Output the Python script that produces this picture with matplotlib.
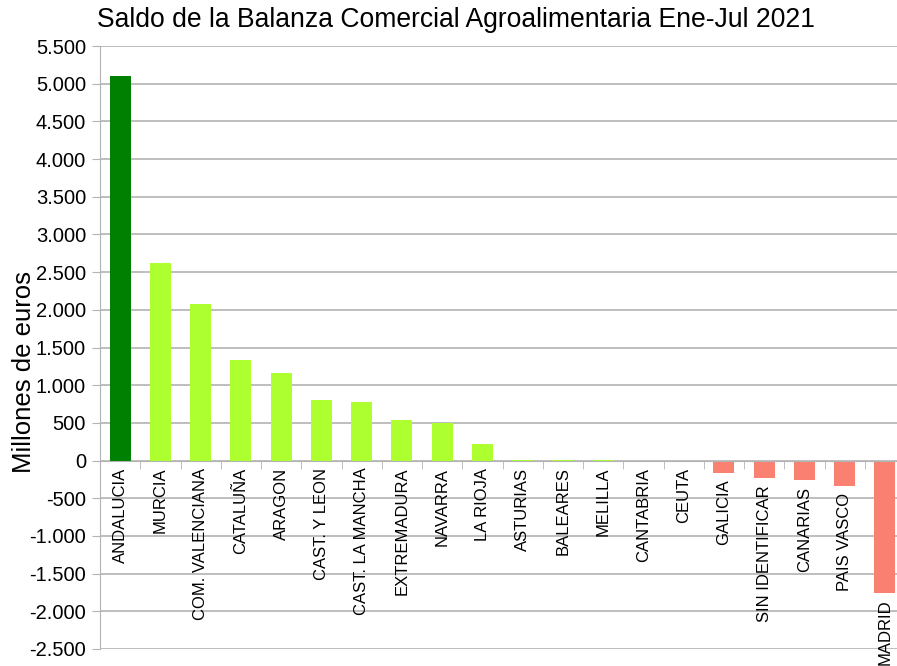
import matplotlib.pyplot as plt
import numpy as np
from matplotlib.ticker import FuncFormatter

plt.rcParams['font.family'] = ['Liberation Sans', 'DejaVu Sans']

regiones = ['ANDALUCIA', 'MURCIA', 'COM. VALENCIANA', 'CATALUÑA', 'ARAGON',
            'CAST. Y LEON', 'CAST. LA MANCHA', 'EXTREMADURA', 'NAVARRA',
            'LA RIOJA', 'ASTURIAS', 'BALEARES', 'MELILLA', 'CANTABRIA', 'CEUTA',
            'GALICIA', 'SIN IDENTIFICAR', 'CANARIAS', 'PAIS VASCO', 'MADRID']
saldo = [5100, 2620, 2075, 1330, 1160, 800, 775, 535, 495, 215,
         8, 8, 8, -8, -8, -160, -235, -262, -342, -1755]

colores = []
for i, v in enumerate(saldo):
    if i == 0:
        colores.append('#008000')
    elif v >= 0:
        colores.append('#adff2f')
    else:
        colores.append('#fa8072')

fig = plt.figure(figsize=(8.97, 6.66), dpi=100)
# el area del grafico sobresale un poco por la derecha, como en el original
ax = fig.add_axes([100/897, 1 - 649/666, 805/897, (649 - 46)/666])

x = np.arange(len(regiones))
ax.bar(x, saldo, width=0.52, color=colores, zorder=2)

ax.set_xlim(-0.5, len(regiones) - 0.5)
ax.set_ylim(-2500, 5500)
ax.set_yticks(np.arange(-2500, 5501, 500))
ax.yaxis.set_major_formatter(FuncFormatter(lambda v, p: f'{int(v):,}'.replace(',', '.')))
ax.grid(axis='y', color='#b3b3b3', linewidth=1.2, zorder=0)

# eje x sobre la linea del cero
ax.spines['bottom'].set_position(('data', 0))
ax.spines['bottom'].set_color('#b3b3b3')
ax.spines['left'].set_color('#b3b3b3')
ax.spines['top'].set_visible(False)
ax.spines['right'].set_visible(False)
ax.xaxis.set_zorder(4)
ax.set_xticks(x)
ax.set_xticklabels([])
ax.set_xticks(np.arange(len(regiones) + 1) - 0.5, minor=True)
ax.tick_params(axis='x', which='major', length=0)
ax.tick_params(axis='x', which='minor', length=6, color='#b3b3b3', direction='out')
ax.tick_params(axis='y', length=6, color='#b3b3b3', labelsize=14.5, pad=4)

# etiquetas debajo de la barra (como LibreOffice)
for i, (reg, v) in enumerate(zip(regiones, saldo)):
    ax.annotate(reg, xy=(i, min(0, v)), xytext=(0, -7), textcoords='offset pixels',
                rotation=90, ha='center', va='top', fontsize=12,
                annotation_clip=False, zorder=5)

fig.text(24/897, 1 - 372/666, 'Millones de euros', rotation=90,
         ha='center', va='center', fontsize=18.5)
fig.text(0.5 * (97 + 815) / 897, 1 - 20/666, 'Saldo de la Balanza Comercial Agroalimentaria Ene-Jul 2021',
         ha='center', va='center', fontsize=19.1)

fig.savefig('out.png', dpi=100)
